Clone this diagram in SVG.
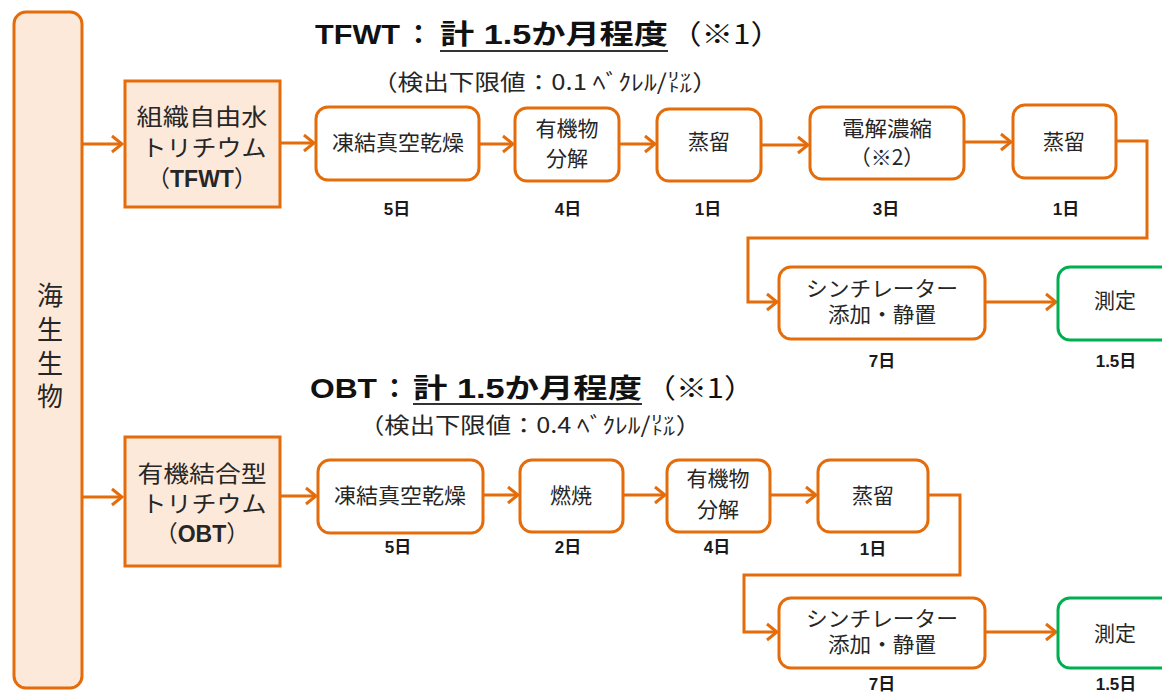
<svg xmlns="http://www.w3.org/2000/svg" width="1162" height="694" viewBox="0 0 1162 694">
<defs>
<marker id="arr" markerUnits="userSpaceOnUse" viewBox="0 0 14 20" markerWidth="14" markerHeight="20" refX="12" refY="10" orient="auto">
<path d="M2,2 L12,10 L2,18" fill="none" stroke="#E46C0A" stroke-width="3" stroke-linejoin="miter"/>
</marker>
<style>
.bx{fill:#fff;stroke:#E46C0A;stroke-width:3}
.pk{fill:#FDE9D9;stroke:#E46C0A;stroke-width:3}
.gr{fill:#fff;stroke:#00B050;stroke-width:3}
.t{font-family:"Noto Sans CJK JP","Liberation Sans",sans-serif;font-size:21px;fill:#262626;text-anchor:middle}
.tb{font-family:"Noto Sans CJK JP","Liberation Sans",sans-serif;font-size:23px;fill:#262626;text-anchor:middle}
.d{font-family:"Liberation Sans","Noto Sans CJK JP",sans-serif;font-size:17px;font-weight:bold;fill:#1a1a1a;text-anchor:middle}
.h{font-family:"Liberation Sans","Noto Sans CJK JP",sans-serif;font-size:27px;font-weight:bold;fill:#111}
.hn{font-family:"Noto Sans CJK JP","Liberation Sans",sans-serif;font-size:27px;font-weight:normal;fill:#111}
.s{font-family:"Noto Sans CJK JP","Liberation Sans",sans-serif;font-size:22px;fill:#262626}
.c{fill:none;stroke:#E46C0A;stroke-width:3}
.ul{stroke:#333;stroke-width:2}
</style>
</defs>

<g id="titles">
<text class="h" x="315" y="44" textLength="85" lengthAdjust="spacingAndGlyphs">TFWT</text>
<text class="h" x="405" y="44">：</text>
<text class="h" x="440" y="44" textLength="228" lengthAdjust="spacingAndGlyphs">計 1.5か月程度</text>
<text class="hn" x="670" y="44" textLength="112" lengthAdjust="spacingAndGlyphs">（※1）</text>
<line class="ul" x1="440" y1="51" x2="668" y2="51"/>
<text class="s" x="372" y="90" textLength="346" lengthAdjust="spacingAndGlyphs">（検出下限値：0.1 ﾍﾞｸﾚﾙ/㍑）</text>

<text class="h" x="310" y="398" textLength="67" lengthAdjust="spacingAndGlyphs">OBT</text>
<text class="h" x="381" y="398">：</text>
<text class="h" x="413" y="398" textLength="229" lengthAdjust="spacingAndGlyphs">計 1.5か月程度</text>
<text class="hn" x="645" y="398" textLength="110" lengthAdjust="spacingAndGlyphs">（※1）</text>
<line class="ul" x1="413" y1="404" x2="642" y2="404"/>
<text class="s" x="359" y="433" textLength="342" lengthAdjust="spacingAndGlyphs">（検出下限値：0.4 ﾍﾞｸﾚﾙ/㍑）</text>
</g>

<g id="connectors">
<path class="c" d="M82,144 H122" marker-end="url(#arr)"/>
<path class="c" d="M280,143 H314" marker-end="url(#arr)"/>
<path class="c" d="M479,144 H513" marker-end="url(#arr)"/>
<path class="c" d="M619,144 H655" marker-end="url(#arr)"/>
<path class="c" d="M761,145 H808" marker-end="url(#arr)"/>
<path class="c" d="M964,142 H1011" marker-end="url(#arr)"/>
<path class="c" d="M1116,141 H1147 V238 H748 V302 H777" marker-end="url(#arr)"/>
<path class="c" d="M985,302 H1056" marker-end="url(#arr)"/>
<path class="c" d="M82,497 H122" marker-end="url(#arr)"/>
<path class="c" d="M280,496 H316" marker-end="url(#arr)"/>
<path class="c" d="M483,495 H518" marker-end="url(#arr)"/>
<path class="c" d="M623,495 H665" marker-end="url(#arr)"/>
<path class="c" d="M770,495 H816" marker-end="url(#arr)"/>
<path class="c" d="M928,495 H960 V575 H744 V632 H777" marker-end="url(#arr)"/>
<path class="c" d="M985,632 H1056" marker-end="url(#arr)"/>
</g>

<g id="marine">
<rect class="pk" x="14" y="12" width="68" height="676" rx="12"/>
<text class="tb" style="font-size:26px" x="50" y="305">海</text>
<text class="tb" style="font-size:26px" x="50" y="339">生</text>
<text class="tb" style="font-size:26px" x="50" y="373">生</text>
<text class="tb" style="font-size:26px" x="50" y="406">物</text>
</g>

<g id="tfwt">
<rect class="pk" x="125" y="81" width="155" height="126"/>
<text class="tb" x="202" y="125" textLength="131" lengthAdjust="spacingAndGlyphs">組織自由水</text>
<text class="tb" x="204" y="156" textLength="125" lengthAdjust="spacingAndGlyphs">トリチウム</text>
<text class="tb" x="202" y="187">（<tspan font-weight="bold" font-family="Liberation Sans">TFWT</tspan>）</text>
</g>

<g id="t1">
<rect class="bx" x="316" y="107" width="163" height="73" rx="12"/>
<text class="t" x="398" y="150" textLength="132" lengthAdjust="spacingAndGlyphs">凍結真空乾燥</text>
<text class="d" x="397" y="215">5日</text>
</g>
<g id="t2">
<rect class="bx" x="515" y="108" width="104" height="73" rx="12"/>
<text class="t" x="567" y="136">有機物</text>
<text class="t" x="567" y="166">分解</text>
<text class="d" x="568" y="215">4日</text>
</g>
<g id="t3">
<rect class="bx" x="657" y="109" width="104" height="72" rx="12"/>
<text class="t" x="709" y="149">蒸留</text>
<text class="d" x="708" y="215">1日</text>
</g>
<g id="t4">
<rect class="bx" x="810" y="107" width="154" height="72" rx="12"/>
<text class="t" x="887" y="136" textLength="90" lengthAdjust="spacingAndGlyphs">電解濃縮</text>
<text class="t" x="887" y="165">（※2）</text>
<text class="d" x="886" y="215">3日</text>
</g>
<g id="t5">
<rect class="bx" x="1013" y="105" width="103" height="73" rx="12"/>
<text class="t" x="1064" y="149">蒸留</text>
<text class="d" x="1066" y="215">1日</text>
</g>
<g id="t6">
<rect class="bx" x="779" y="267" width="206" height="72" rx="12"/>
<text class="t" x="882" y="296" textLength="152" lengthAdjust="spacingAndGlyphs">シンチレーター</text>
<text class="t" x="882" y="322" textLength="108" lengthAdjust="spacingAndGlyphs">添加・静置</text>
<text class="d" x="882" y="367">7日</text>
</g>
<g id="t7">
<rect class="gr" x="1058" y="267" width="120" height="73" rx="12"/>
<text class="t" x="1115" y="308">測定</text>
<text class="d" x="1116" y="367">1.5日</text>
</g>

<g id="obt">
<rect class="pk" x="125" y="437" width="155" height="129"/>
<text class="tb" x="202" y="482" textLength="129" lengthAdjust="spacingAndGlyphs">有機結合型</text>
<text class="tb" x="204" y="512" textLength="125" lengthAdjust="spacingAndGlyphs">トリチウム</text>
<text class="tb" x="202" y="542">（<tspan font-weight="bold" font-family="Liberation Sans">OBT</tspan>）</text>
</g>

<g id="o1">
<rect class="bx" x="318" y="460" width="165" height="73" rx="12"/>
<text class="t" x="400" y="503" textLength="132" lengthAdjust="spacingAndGlyphs">凍結真空乾燥</text>
<text class="d" x="398" y="553">5日</text>
</g>
<g id="o2">
<rect class="bx" x="520" y="460" width="103" height="72" rx="12"/>
<text class="t" x="571" y="503">燃焼</text>
<text class="d" x="568" y="553">2日</text>
</g>
<g id="o3">
<rect class="bx" x="667" y="460" width="103" height="72" rx="12"/>
<text class="t" x="718" y="486">有機物</text>
<text class="t" x="718" y="517">分解</text>
<text class="d" x="717" y="553">4日</text>
</g>
<g id="o4">
<rect class="bx" x="818" y="460" width="110" height="72" rx="12"/>
<text class="t" x="873" y="503">蒸留</text>
<text class="d" x="873" y="555">1日</text>
</g>
<g id="o5">
<rect class="bx" x="779" y="598" width="206" height="70" rx="12"/>
<text class="t" x="882" y="626" textLength="152" lengthAdjust="spacingAndGlyphs">シンチレーター</text>
<text class="t" x="882" y="652" textLength="108" lengthAdjust="spacingAndGlyphs">添加・静置</text>
<text class="d" x="882" y="690">7日</text>
</g>
<g id="o6">
<rect class="gr" x="1058" y="598" width="120" height="70" rx="12"/>
<text class="t" x="1115" y="641">測定</text>
<text class="d" x="1116" y="690">1.5日</text>
</g>
</svg>
